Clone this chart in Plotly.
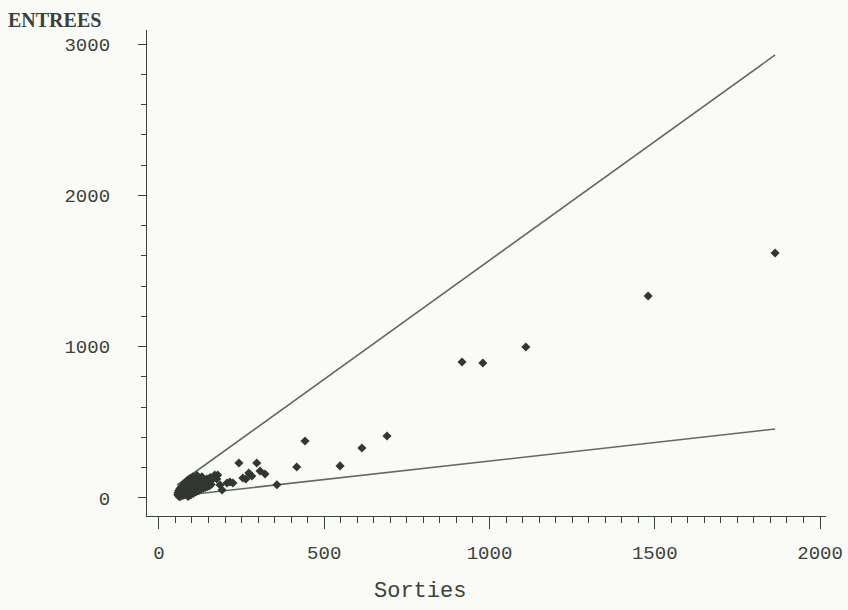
import plotly.graph_objects as go

# Scatter data (Sorties, Entrees)
sorties = [1864, 1480, 1110, 980, 917, 690, 614, 548, 442, 417, 357, 321, 306, 296, 281, 272,
           263, 254, 242, 224, 215, 206, 191, 185, 178, 175, 169,
           57, 58, 60, 60, 62, 63, 65, 65, 67, 68, 70, 70, 72, 73, 75, 75, 77, 78, 80, 80,
           82, 84, 85, 86, 88, 90, 92, 93, 95, 97, 100, 100, 103, 105, 108, 110, 112, 115,
           118, 120, 124, 128, 130, 135, 140, 145, 150, 155, 160,
           62, 66, 70, 74, 78, 82, 86, 90, 95, 100, 105, 110, 116, 122, 128, 134, 140,
           146, 152, 158, 88, 96, 104, 112, 120]
entrees = [1619, 1335, 998, 892, 899, 410, 330, 212, 377, 205, 88, 159, 178, 231, 145, 165,
           126, 132, 231, 99, 106, 99, 53, 86, 152, 126, 152,
           22, 35, 15, 48, 30, 60, 20, 42, 70, 35, 25, 55, 80, 45, 30, 65, 95, 50, 38, 72,
           105, 58, 45, 88, 120, 65, 50, 100, 130, 75, 60, 110, 140, 85, 70, 120, 95, 150,
           80, 130, 105, 90, 140, 115, 100, 125, 110, 135, 120,
           8, 12, 16, 18, 22, 25, 28, 32, 35, 38, 42, 45, 50, 55, 60, 65, 70,
           75, 80, 90, 10, 20, 30, 40, 48]

# Two reference lines (endpoints)
upper_x = [55, 1864]
upper_y = [86, 2928]
lower_x = [55, 1864]
lower_y = [13, 456]

x_ticks = [0, 500, 1000, 1500, 2000]
y_ticks = [0, 1000, 2000, 3000]

ink = "#3a423c"
line_col = "#626862"
bg = "#fafaf7"

fig = go.Figure()
fig.add_trace(go.Scatter(x=upper_x, y=upper_y, mode="lines",
                         line=dict(color=line_col, width=1.6), showlegend=False))
fig.add_trace(go.Scatter(x=lower_x, y=lower_y, mode="lines",
                         line=dict(color=line_col, width=1.6), showlegend=False))
fig.add_trace(go.Scatter(x=sorties, y=entrees, mode="markers",
                         marker=dict(symbol="diamond", size=7, color="#323733"),
                         showlegend=False))

tick_font = dict(family="Liberation Mono, Courier New, monospace", size=19, color=ink)

fig.update_xaxes(range=[-36, 2018], showgrid=False, zeroline=False, automargin=False,
                 showline=True, linecolor=ink, linewidth=1.3,
                 tickmode="array", tickvals=x_ticks, ticktext=[str(v) for v in x_ticks],
                 ticks="outside", ticklen=12, tickwidth=1.3, tickcolor=ink,
                 ticklabelstandoff=7, tickfont=tick_font,
                 minor=dict(dtick=50, tick0=0, ticks="outside", ticklen=6,
                            tickwidth=1.2, tickcolor=ink, showgrid=False))
fig.update_yaxes(range=[-119, 3093], showgrid=False, zeroline=False, automargin=False,
                 showline=True, linecolor=ink, linewidth=1.3,
                 tickmode="array", tickvals=y_ticks, ticktext=[str(v) for v in y_ticks],
                 ticks="outside", ticklen=8, tickwidth=1.3, tickcolor=ink,
                 ticklabelstandoff=24, tickfont=tick_font,
                 minor=dict(dtick=200, tick0=0, ticks="outside", ticklen=5,
                            tickwidth=1.2, tickcolor=ink, showgrid=False))

fig.add_annotation(text="ENTREES", xref="paper", yref="paper",
                   x=-0.207, y=1.048, xanchor="left", yanchor="top", showarrow=False,
                   font=dict(family="Liberation Serif, Times New Roman, serif",
                             size=20, color=ink, weight="bold"))
fig.add_annotation(text="Sorties", xref="paper", yref="paper",
                   x=(420 - 147) / 679, y=-0.155, xanchor="center", yanchor="middle",
                   showarrow=False,
                   font=dict(family="Liberation Mono, Courier New, monospace",
                             size=22, color=ink))

fig.update_layout(width=848, height=610,
                  margin=dict(l=147, r=22, t=30, b=94),
                  plot_bgcolor=bg, paper_bgcolor=bg)

fig.write_html("out.html", config={"displayModeBar": False},
               post_script="document.body.style.margin='0';"
                           "document.body.style.background='%s';" % bg)
